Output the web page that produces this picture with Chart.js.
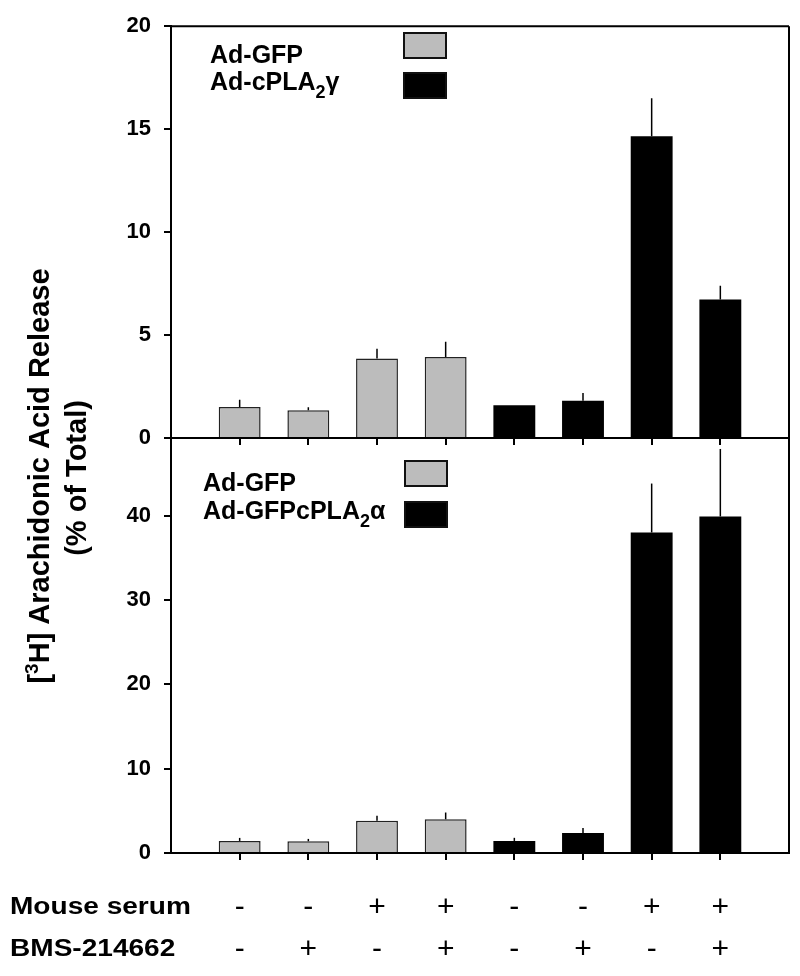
<!DOCTYPE html>
<html>
<head>
<meta charset="utf-8">
<script src="https://cdn.jsdelivr.net/npm/chart.js@4/dist/chart.umd.min.js"></script>
<style>
body{margin:0;background:#fff;}
#wrap{position:relative;width:800px;height:976px;}
#wrap canvas{position:absolute;left:0;top:0;}
</style>
</head>
<body>
<div id="wrap">
  <canvas id="chartTop" width="800" height="976"></canvas>
  <canvas id="chartBot" width="800" height="976"></canvas>
</div>
<script>
// data (% of total release)
var gfpTop = [1.5, 1.35, 3.86, 3.94];
var gfpTopErr = [0.36, 0.14, 0.48, 0.74];
var gammaTop = [1.59, 1.81, 14.66, 6.73];
var gammaTopErr = [0, 0.37, 1.84, 0.67];

var gfpBot = [1.43, 1.39, 3.81, 4.0];
var gfpBotErr = [0.36, 0.28, 0.6, 0.8];
var alphaBot = [1.43, 2.38, 38.0, 39.9];
var alphaBotErr = [0.37, 0.59, 5.8, 8.0];

var mouseSerum = ['-', '-', '+', '+', '-', '-', '+', '+'];
var bms = ['-', '+', '-', '+', '-', '+', '-', '+'];
var rowTitles = ['Mouse serum', 'BMS-214662'];

var yTicksTop = [0, 5, 10, 15, 20];
var yTicksBot = [0, 10, 20, 30, 40];

var FONT = '"Liberation Sans", Arial, Helvetica, sans-serif';
var GRAY = '#bcbcbc';

function toPoints(arr, start){
    return arr.map(function(v, i){ return {x: start + i, y: v}; });
}

// label with a subscript 2 (cPLA2)
function drawRich(ctx, text, x, y, size){
    var parts = text.split('\u2082');
    ctx.font = 'bold ' + size + 'px ' + FONT;
    ctx.fillText(parts[0], x, y);
    x += ctx.measureText(parts[0]).width;
    if(parts.length > 1){
        ctx.font = 'bold ' + Math.round(size * 0.7) + 'px ' + FONT;
        ctx.fillText('2', x, y + size * 0.3);
        x += ctx.measureText('2').width;
        ctx.font = 'bold ' + size + 'px ' + FONT;
        ctx.fillText(parts[1], x, y);
    }
}

var errorBars = {
    id: 'errorBars',
    afterDatasetsDraw: function(chart){
        var ctx = chart.ctx, ys = chart.scales.y, a = chart.chartArea;
        ctx.save();
        ctx.beginPath();
        ctx.rect(a.left, a.top, a.right - a.left, a.bottom - a.top);
        ctx.clip();
        ctx.strokeStyle = '#000';
        ctx.lineWidth = 1.5;
        chart.data.datasets.forEach(function(ds, di){
            var meta = chart.getDatasetMeta(di);
            meta.data.forEach(function(bar, i){
                var e = ds.errors[i];
                if(!e) return;
                var top = ys.getPixelForValue(ds.data[i].y + e);
                ctx.beginPath();
                ctx.moveTo(bar.x, bar.y);
                ctx.lineTo(bar.x, top);
                ctx.stroke();
            });
        });
        ctx.restore();
    }
};

var sideLegend = {
    id: 'sideLegend',
    afterDraw: function(chart, args, o){
        var ctx = chart.ctx;
        ctx.save();
        ctx.fillStyle = '#000';
        ctx.textBaseline = 'alphabetic';
        chart.data.datasets.forEach(function(ds, i){
            ctx.fillStyle = ds.backgroundColor;
            ctx.fillRect(o.boxX, o.boxY[i], 42, 25);
            ctx.strokeStyle = '#111';
            ctx.lineWidth = 2;
            ctx.strokeRect(o.boxX, o.boxY[i], 42, 25);
            ctx.fillStyle = '#000';
            drawRich(ctx, ds.label, o.textX, o.textY[i], 25);
        });
        ctx.restore();
    }
};

var frame = {
    id: 'frame',
    afterDraw: function(chart, args, o){
        var ctx = chart.ctx, a = chart.chartArea;
        ctx.save();
        ctx.strokeStyle = '#000';
        ctx.lineWidth = 2;
        ctx.beginPath();
        if(o.top){
            ctx.moveTo(a.left, a.top);
            ctx.lineTo(a.right, a.top);
        }
        ctx.moveTo(a.right, a.top);
        ctx.lineTo(a.right, a.bottom);
        ctx.stroke();
        ctx.restore();
    }
};

var yTitle = {
    id: 'yTitle',
    afterDraw: function(chart){
        var ctx = chart.ctx;
        ctx.save();
        ctx.fillStyle = '#000';
        ctx.textBaseline = 'middle';
        // first line with superscript 3
        ctx.translate(41, 476);
        ctx.rotate(-Math.PI / 2);
        var big = 'bold 29px ' + FONT, small = 'bold 19px ' + FONT;
        ctx.font = big;
        var w1 = ctx.measureText('[').width;
        var w3 = ctx.measureText('H] Arachidonic Acid Release').width;
        ctx.font = small;
        var w2 = ctx.measureText('3').width;
        var x = -(w1 + w2 + w3) / 2;
        ctx.font = big;
        ctx.fillText('[', x, 0);
        ctx.font = small;
        ctx.fillText('3', x + w1, -8);
        ctx.font = big;
        ctx.fillText('H] Arachidonic Acid Release', x + w1 + w2, 0);
        ctx.textAlign = 'center';
        ctx.fillText('(% of Total)', -2, 37);
        ctx.restore();
    }
};

var rowLabels = {
    id: 'rowLabels',
    afterDraw: function(chart){
        var ctx = chart.ctx;
        var ys = [908, 950];
        ctx.save();
        ctx.fillStyle = '#000';
        ctx.textBaseline = 'middle';
        ctx.font = 'bold 23px ' + FONT;
        rowTitles.forEach(function(t, i){
            ctx.save();
            ctx.translate(10, ys[i]);
            ctx.scale(1.22, 1);
            ctx.fillText(t, 0, 0);
            ctx.restore();
        });
        ctx.restore();
    }
};

function yScale(max, ticks){
    return {
        min: 0, max: max,
        afterBuildTicks: function(s){ s.ticks = ticks.map(function(v){ return {value: v}; }); },
        afterFit: function(s){ s.width = 171; },
        border: {display: true, color: '#000', width: 2},
        grid: {display: true, drawOnChartArea: false, drawTicks: true, tickLength: 7, color: '#000', lineWidth: 2},
        ticks: {padding: 13, color: '#000', font: {family: FONT, size: 22, weight: 'bold'}}
    };
}

function xScale(showLabels, height){
    return {
        type: 'linear', min: 0, max: 9,
        offset: false,
        afterBuildTicks: function(s){
            s.ticks = mouseSerum.map(function(m, i){ return {value: i + 1}; });
        },
        afterFit: function(s){ s.height = height; },
        border: {display: true, color: '#000', width: 2},
        grid: {display: true, offset: false, drawOnChartArea: false, drawTicks: true, tickLength: 7, color: '#000', lineWidth: 2},
        ticks: {
            display: showLabels,
            padding: 27,
            color: '#000',
            font: {family: FONT, size: 30, lineHeight: 1.4},
            callback: function(v){ return [mouseSerum[v - 1], bms[v - 1]]; }
        }
    };
}

var common = {
    responsive: false,
    animation: false,
    barPercentage: 0.61,
    categoryPercentage: 1,
    grouped: false
};

new Chart(document.getElementById('chartTop').getContext('2d'), {
    type: 'bar',
    data: {
        datasets: [{
            label: 'Ad-GFP',
            data: toPoints(gfpTop, 1),
            errors: gfpTopErr,
            backgroundColor: GRAY, borderColor: '#222', borderWidth: 1.5
        }, {
            label: 'Ad-cPLA\u2082\u03b3',
            data: toPoints(gammaTop, 5),
            errors: gammaTopErr,
            backgroundColor: '#000', borderColor: '#000', borderWidth: 0
        }]
    },
    options: Object.assign({}, common, {
        layout: {padding: {top: 22, right: 11, bottom: 531, left: 0}},
        plugins: {
            legend: {display: false}, tooltip: {enabled: false},
            sideLegend: {textX: 210, textY: [63, 90], boxX: 404, boxY: [33, 73]},
            frame: {top: true}
        },
        scales: {x: xScale(false, 7), y: yScale(20, yTicksTop)}
    }),
    plugins: [errorBars, sideLegend, frame, yTitle]
});

new Chart(document.getElementById('chartBot').getContext('2d'), {
    type: 'bar',
    data: {
        datasets: [{
            label: 'Ad-GFP',
            data: toPoints(gfpBot, 1),
            errors: gfpBotErr,
            backgroundColor: GRAY, borderColor: '#222', borderWidth: 1.5
        }, {
            label: 'Ad-GFPcPLA\u2082\u03b1',
            data: toPoints(alphaBot, 5),
            errors: alphaBotErr,
            backgroundColor: '#000', borderColor: '#000', borderWidth: 0
        }]
    },
    options: Object.assign({}, common, {
        layout: {padding: {top: 438, right: 11, bottom: 0, left: 0}},
        plugins: {
            legend: {display: false}, tooltip: {enabled: false},
            sideLegend: {textX: 203, textY: [491, 519], boxX: 405, boxY: [461, 502]},
            frame: {top: false}
        },
        scales: {x: xScale(true, 123), y: yScale(49.2, yTicksBot)}
    }),
    plugins: [errorBars, sideLegend, frame, rowLabels]
});
</script>
</body>
</html>
